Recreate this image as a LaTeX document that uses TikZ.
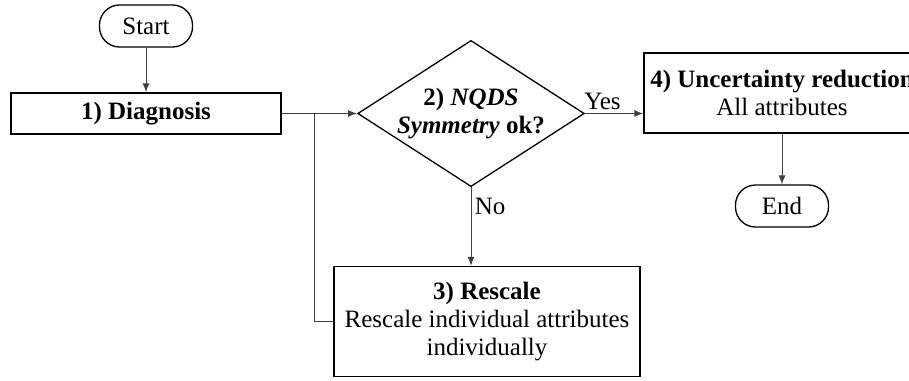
\documentclass[tikz,border=0pt]{standalone}
\usepackage{fontspec}
\setmainfont{Liberation Serif}
\usetikzlibrary{shapes.geometric, positioning, arrows.meta}
\tikzset{
every node/.style={font=\fontsize{25}{28}\selectfont}, % text size of the whole chart
>={Latex[length=9pt,width=7pt]}, % small filled arrow heads
terminal/.style={draw, line width=1.3pt, rounded corners=20pt, minimum width=93pt, minimum height=42pt}, % start and end
process/.style={draw, line width=1.3pt, align=center, inner sep=4pt}, % the numbered steps
decision/.style={draw, line width=1.3pt, diamond, aspect=1.55, inner sep=0pt, minimum width=221pt, minimum height=143pt, align=center},
flow/.style={->, draw=black!75, line width=1pt}, % connectors with a head
line/.style={draw=black!75, line width=1pt}, % connectors without a head
}

\begin{document}
\begin{tikzpicture}
    \useasboundingbox (0,0) rectangle (909pt,-380pt);
    \node[terminal] (start) at (146pt,-26pt) {Start};
    \node[process, below of=start, node distance=87.5pt, minimum width=270pt, minimum height=41pt] (diag) {\textbf{1) Diagnosis}};
    \node[decision, right of=diag, node distance=325pt] (dec) {\textbf{2) \textit{NQDS}}\\\textbf{\textit{Symmetry} ok?}};
    \node[process, right of=dec, node distance=311pt, yshift=20.5pt, minimum width=276pt, minimum height=80pt] (unc) {\textbf{4) Uncertainty reduction}\\All attributes};
    \node[terminal, below of=unc, node distance=113pt] (end) {End};
    \node[process, below of=dec, node distance=208pt, xshift=16pt, minimum width=306pt, minimum height=110pt] (resc) {\textbf{3) Rescale}\\Rescale individual attributes\\individually};
    \coordinate[right=33pt of diag.east] (join);
    \draw[flow] (start) -- (diag);
    \draw[flow] (diag) -- (dec);
    \draw[flow] (dec.east) -- node[pos=0.3, above] {Yes} (dec.east -| unc.west);
    \draw[flow] (unc) -- (end);
    \draw[flow] (dec.south) -- node[pos=0.25, right] {No} (dec.south |- resc.north);
    \draw[line] (resc.west) -| (join);
\end{tikzpicture}
\end{document}
